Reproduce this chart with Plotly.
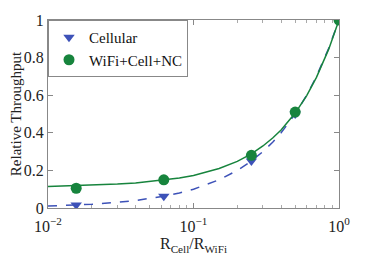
import plotly.graph_objects as go

# Marker data
ratio = [1/64, 1/16, 1/4, 1/2, 1.0]
cellular = [0.016, 0.0625, 0.25, 0.5, 1.0]
nc = [0.105, 0.15, 0.28, 0.51, 1.0]

# Curve readings
curve_x = [0.01, 0.015, 0.02, 0.03, 0.04, 0.0625, 0.08, 0.1, 0.15, 0.2, 0.25, 0.3, 0.35, 0.4, 0.5, 0.6, 0.7, 0.85, 1.0]
cell_curve = [0.01, 0.015, 0.02, 0.03, 0.04, 0.0625, 0.08, 0.1, 0.15, 0.2, 0.25, 0.3, 0.35, 0.4, 0.5, 0.6, 0.7, 0.85, 1.0]
nc_curve = [0.115, 0.118, 0.121, 0.127, 0.133, 0.148, 0.159, 0.173, 0.21, 0.248, 0.288, 0.33, 0.372, 0.415, 0.505, 0.598, 0.695, 0.845, 1.0]

x_tickvals = [0.01, 0.1, 1]
x_ticktext = ["10<sup>−2</sup>", "10<sup>−1</sup>", "10<sup>0</sup>"]
x_minor = [0.02, 0.03, 0.04, 0.05, 0.06, 0.07, 0.08, 0.09,
           0.2, 0.3, 0.4, 0.5, 0.6, 0.7, 0.8, 0.9]
y_tickvals = [0, 0.2, 0.4, 0.6, 0.8, 1]
y_ticktext = ["0", "0.2", "0.4", "0.6", "0.8", "1"]

blue = "#3d52b8"
green = "#17843d"
serif = "Liberation Serif, Times New Roman, serif"

fig = go.Figure()
fig.add_trace(go.Scatter(x=curve_x, y=cell_curve, mode="lines",
                         line=dict(color=blue, width=1.5, dash="dash"), showlegend=False))
fig.add_trace(go.Scatter(x=curve_x, y=nc_curve, mode="lines",
                         line=dict(color=green, width=1.5), showlegend=False))
fig.add_trace(go.Scatter(x=ratio, y=cellular, mode="markers", name="Cellular",
                         marker=dict(symbol="triangle-down", size=10, color=blue)))
fig.add_trace(go.Scatter(x=ratio, y=nc, mode="markers", name="WiFi+Cell+NC",
                         marker=dict(symbol="circle", size=11, color=green)))

fig.update_layout(
    width=366, height=258,
    margin=dict(l=40, r=35, t=12, b=58, autoexpand=False),
    paper_bgcolor="white", plot_bgcolor="white",
    font=dict(family=serif, size=15, color="#222"),
    showlegend=True,
    legend=dict(x=0, y=1, xanchor="left", yanchor="top", bgcolor="white",
                bordercolor="#888", borderwidth=1,
                font=dict(family=serif, size=15, color="#111"),
                tracegroupgap=0, itemwidth=30),
)
fig.update_xaxes(type="log", range=[-2, 0], tickvals=x_tickvals, ticktext=x_ticktext,
                 automargin=False, ticklabelstandoff=4,
                 showgrid=False, zeroline=False, showline=True, linecolor="#888", linewidth=1,
                 mirror="ticks", ticks="inside", ticklen=5, tickcolor="#888",
                 minor=dict(tickvals=x_minor, ticks="inside", ticklen=3, tickcolor="#aaa", showgrid=False),
                 title=dict(text="R<sub>Cell</sub>/R<sub>WiFi</sub>", standoff=0,
                            font=dict(family=serif, size=16)),
                 tickfont=dict(family=serif, size=16))
fig.update_yaxes(range=[0, 1], tickvals=y_tickvals, ticktext=y_ticktext,
                 automargin=False,
                 showgrid=False, zeroline=False, showline=True, linecolor="#888", linewidth=1,
                 mirror="ticks", ticks="inside", ticklen=5, tickcolor="#888",
                 title=dict(text="Relative Throughput", standoff=3,
                            font=dict(family=serif, size=15)),
                 tickfont=dict(family=serif, size=16))

fig.write_html("out.html")
